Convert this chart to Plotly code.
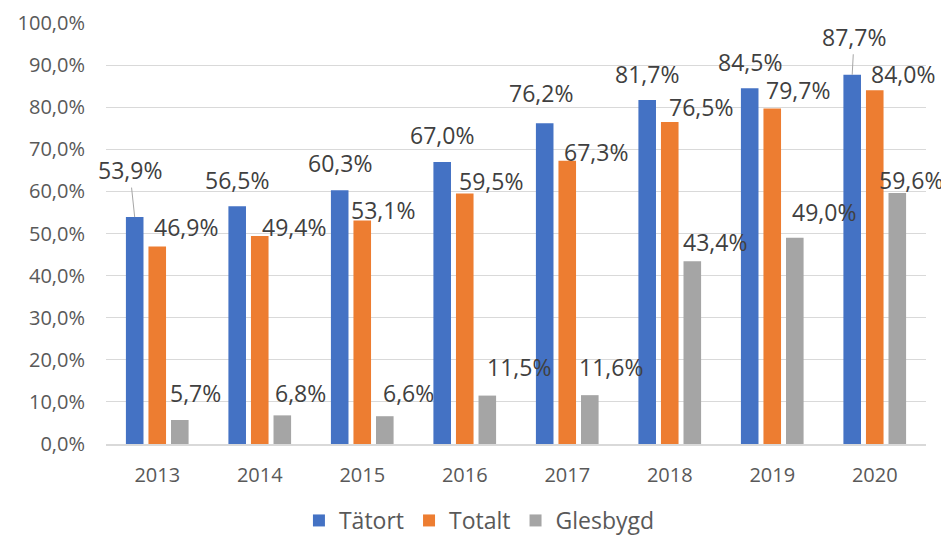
import plotly.graph_objects as go

years = ["2013", "2014", "2015", "2016", "2017", "2018", "2019", "2020"]
series_names = ["Tätort", "Totalt", "Glesbygd"]
tatort = [53.9, 56.5, 60.3, 67.0, 76.2, 81.7, 84.5, 87.7]
totalt = [46.9, 49.4, 53.1, 59.5, 67.3, 76.5, 79.7, 84.0]
glesbygd = [5.7, 6.8, 6.6, 11.5, 11.6, 43.4, 49.0, 59.6]

colors = ["#4472C4", "#ED7D31", "#A5A5A5"]

# label placement offsets (pixels, relative to bar top centre): (dx, dy up)
label_dx = [
    [-5, 0, 0, 0, -4, 0, 0, 2],
    [29, 34, 21, 26, 29, 31, 26, 28],
    [16, 18, 24, 32, 21, 23, 29, 14],
]
label_dy = [
    [47, 26, 27, 27, 30, 26, 26, 38],
    [20, 9, 10, 13, 9, 15, 18, 16],
    [27, 22, 23, 29, 28, 19, 26, 13],
]
leader = [
    [True, False, False, False, False, False, False, True],
    [False] * 8,
    [False] * 8,
]

values = [tatort, totalt, glesbygd]
BARGAP = 0.34
GROUPGAP = 0.22
slot = (1 - BARGAP) / 3

fig = go.Figure()
for s, (name, vals) in enumerate(zip(series_names, values)):
    fig.add_trace(go.Bar(
        x=years, y=vals, name=name,
        marker=dict(color=colors[s], line=dict(width=0)),
        hoverinfo="skip",
    ))

annotations = []
for s, vals in enumerate(values):
    for i, v in enumerate(vals):
        txt = f"{v:.1f}".replace(".", ",") + "%"
        annotations.append(dict(
            x=i + (s - 1) * slot, y=v, xref="x", yref="y",
            text=txt, showarrow=True,
            ax=label_dx[s][i], ay=-label_dy[s][i],
            axref="pixel", ayref="pixel",
            arrowhead=0, arrowwidth=1,
            arrowcolor="#A6A6A6" if leader[s][i] else "rgba(0,0,0,0)",
            standoff=0,
            font=dict(family="Open Sans", size=23, color="#404040"),
        ))

# page body has an 8px default margin, so the figure is sized to fit the window
fig.update_layout(
    width=941, height=534,
    margin=dict(l=98, r=23, t=15, b=98, autoexpand=False),
    paper_bgcolor="white", plot_bgcolor="white",
    bargap=BARGAP, bargroupgap=GROUPGAP,
    separators=", ",
    font=dict(family="Open Sans", color="#595959"),
    annotations=annotations,
    showlegend=True,
    legend=dict(
        orientation="h", xref="container", yref="container",
        x=0.501, xanchor="center", y=0.0, yanchor="bottom",
        font=dict(family="Open Sans", size=23, color="#595959"),
        itemwidth=30, tracegroupgap=0,
    ),
    xaxis=dict(
        type="category", range=[-0.5, len(years) - 0.5], autorange=False,
        showgrid=False, showline=True,
        linecolor="#D9D9D9", linewidth=2, automargin=False,
        tickfont=dict(size=20, color="#595959"),
        ticks="", ticklabelstandoff=12,
    ),
    yaxis=dict(
        range=[0, 100], autorange=False, dtick=10, tickformat=".1f", ticksuffix="%",
        showgrid=True, gridcolor="#D9D9D9", gridwidth=1,
        zeroline=False, showline=False, automargin=False,
        tickfont=dict(size=20, color="#595959"),
        ticks="", ticklabelstandoff=20,
    ),
)

fig.write_html("out.html")
